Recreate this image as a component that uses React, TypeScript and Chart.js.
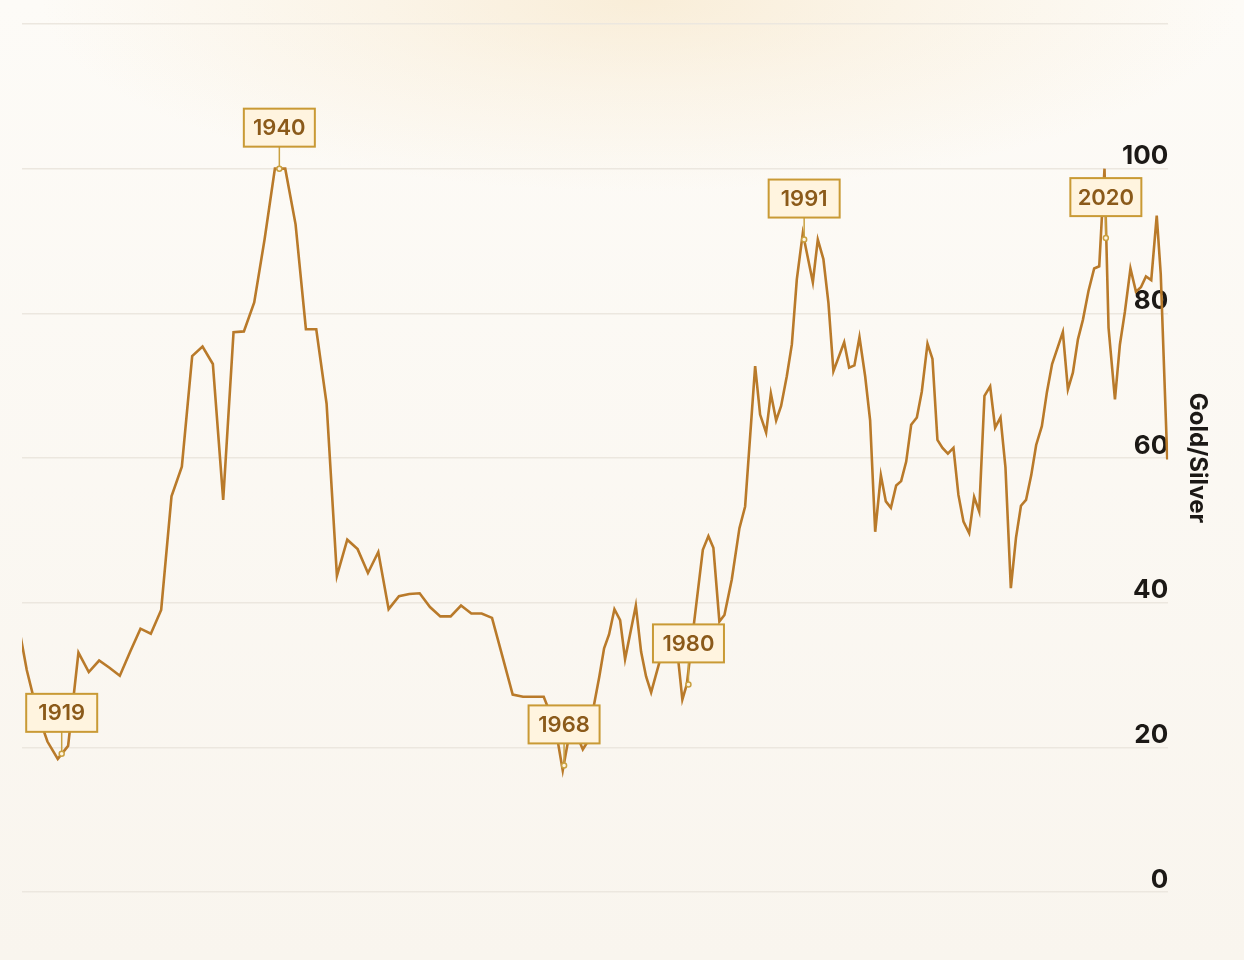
import { useEffect, useRef } from "react";
import { Chart, registerables } from "chart.js";

Chart.register(...registerables);

// annual points first, then roughly half-yearly readings
const years = [
  1915, 1916, 1917, 1918, 1919, 1920, 1921, 1922, 1923, 1924,
  1925, 1926, 1927, 1928, 1929, 1930, 1931, 1932, 1933, 1934,
  1935, 1936, 1937, 1938, 1939, 1940, 1941, 1942, 1943, 1944,
  1945, 1946, 1947, 1948, 1949, 1950, 1951, 1952, 1953, 1954,
  1955, 1956, 1957, 1958, 1959, 1960, 1961, 1962, 1963, 1964,
  1965, 1966,
  1967.1, 1967.84, 1968.69, 1969.78, 1970.17, 1971.38, 1971.84, 1972.32, 1972.84, 1973.39,
  1973.87, 1974.91, 1975.42, 1975.9, 1976.39, 1977.16, 1978.22, 1979.03, 1979.41, 1979.84,
  1980.54, 1981.39, 1981.93, 1982.41, 1982.99, 1983.48, 1984.19, 1984.93, 1985.48, 1986.45,
  1986.93, 1987.51, 1987.97, 1988.48, 1988.96, 1989.51, 1990.0, 1990.48, 1991.06, 1992.03,
  1992.51, 1993.05, 1993.54, 1994.02, 1995.06, 1995.54, 1996.05, 1996.54, 1997.09, 1997.57,
  1998.06, 1998.61, 1999.09, 1999.58, 2000.09, 2000.57, 2001.06, 2001.54, 2002.09, 2002.57,
  2003.12, 2003.6, 2004.08, 2004.57, 2005.09, 2005.63, 2006.11, 2006.6, 2007.15, 2007.63,
  2008.12, 2008.63, 2009.18, 2009.66, 2010.18, 2010.66, 2011.18, 2011.68, 2012.16, 2012.65,
  2013.15, 2013.63, 2014.18, 2014.67, 2015.17, 2015.69, 2016.21, 2016.7, 2017.18, 2017.67,
  2018.15, 2018.69, 2019.24, 2019.73, 2020.24, 2020.63, 2021.25, 2021.73, 2022.21, 2022.75,
  2023.28, 2023.76, 2024.25, 2024.76, 2025.29, 2025.68, 2026.31,
];

const ratios = [
  38.5, 30.7, 24.9, 20.8, 18.4, 20.2, 33.1, 30.4, 32.0, 31.0,
  29.9, 33.2, 36.4, 35.7, 39.0, 54.7, 58.8, 74.1, 75.4, 73.0,
  54.2, 77.4, 77.5, 81.5, 90.2, 100.0, 100.0, 92.3, 77.8, 77.8,
  67.5, 43.7, 48.7, 47.4, 44.1, 47.0, 39.1, 40.9, 41.2, 41.3,
  39.4, 38.1, 38.1, 39.6, 38.5, 38.5, 37.9, 32.6, 27.3, 27.0,
  27.0, 27.0,
  23.0, 16.8, 23.5, 19.7, 20.6, 29.8, 33.7, 35.6, 39.1, 37.6,
  32.2, 39.6, 33.2, 29.8, 27.6, 31.6, 36.0, 31.8, 26.6, 28.7,
  37.2, 47.3, 49.2, 47.6, 37.4, 38.3, 43.2, 50.3, 53.3, 72.7,
  66.0, 63.5, 68.9, 65.2, 67.2, 71.3, 75.7, 84.7, 91.1, 84.3,
  90.2, 87.5, 81.4, 72.0, 76.0, 72.5, 72.8, 76.7, 71.3, 65.2,
  49.8, 57.6, 54.0, 53.1, 56.2, 56.8, 59.5, 64.6, 65.6, 69.2,
  75.8, 73.7, 62.5, 61.4, 60.6, 61.4, 54.9, 51.2, 49.6, 54.6,
  52.6, 68.6, 69.9, 64.2, 65.6, 58.7, 42.0, 49.0, 53.4, 54.2,
  57.6, 61.8, 64.4, 69.1, 73.0, 75.2, 77.4, 69.5, 71.8, 76.4,
  79.1, 83.1, 86.2, 86.5, 100.0, 78.0, 68.1, 75.7, 80.2, 86.2,
  83.0, 83.6, 85.1, 84.6, 93.5, 85.4, 59.8,
];

const yTicks = [0, 20, 40, 60, 80, 100, 120];

const calloutLabels = ["1919", "1940", "1968", "1980", "1991", "2020"];
const calloutYears = [1919.38, 1940.43, 1967.97, 1980.0, 1991.19, 2020.37];
const calloutRatios = [19.1, 100.0, 17.5, 28.7, 90.2, 90.4];

const backdrop = {
  id: "backdrop",
  beforeDraw(chart: Chart) {
    const { ctx, width, height } = chart;
    ctx.save();
    const base = ctx.createLinearGradient(0, 0, 0, height);
    base.addColorStop(0, "#FDFBF7");
    base.addColorStop(1, "#F9F5EE");
    ctx.fillStyle = base;
    ctx.fillRect(0, 0, width, height);
    // soft warm glow along the top edge
    ctx.translate(640, 0);
    ctx.scale(1, 0.32);
    const glow = ctx.createRadialGradient(0, 0, 0, 0, 0, 600);
    glow.addColorStop(0, "rgba(245, 224, 186, 0.5)");
    glow.addColorStop(0.45, "rgba(245, 224, 186, 0.25)");
    glow.addColorStop(1, "rgba(245, 224, 186, 0)");
    ctx.fillStyle = glow;
    ctx.fillRect(-640, 0, width, height / 0.32);
    ctx.restore();
  },
};

const callouts = {
  id: "callouts",
  afterDatasetsDraw(chart: Chart) {
    const { ctx, scales } = chart;
    const w = 71;
    const h = 38;
    const gap = 22;
    ctx.save();
    ctx.font = "600 22px Inter";
    ctx.textAlign = "center";
    ctx.textBaseline = "middle";
    calloutLabels.forEach((label, i) => {
      const px = scales.x.getPixelForValue(calloutYears[i]);
      const py = scales.y.getPixelForValue(calloutRatios[i]);
      const bottom = py - gap;

      ctx.strokeStyle = "#C9A040";
      ctx.lineWidth = 1.5;
      ctx.beginPath();
      ctx.moveTo(px, bottom);
      ctx.lineTo(px, py);
      ctx.stroke();
      ctx.beginPath();
      ctx.arc(px, py, 2.5, 0, Math.PI * 2);
      ctx.fillStyle = "#FFF4DF";
      ctx.fill();
      ctx.stroke();

      ctx.fillStyle = "#FFF4DF";
      ctx.fillRect(px - w / 2, bottom - h, w, h);
      ctx.strokeStyle = "#C99A35";
      ctx.lineWidth = 2;
      ctx.strokeRect(px - w / 2, bottom - h, w, h);

      ctx.fillStyle = "#8B5A1A";
      ctx.fillText(label, px, bottom - h / 2 + 1);
    });
    ctx.restore();
  },
};

const RatioChart = () => {
  const chartRef = useRef<HTMLCanvasElement | null>(null);
  const chartInstanceRef = useRef<Chart | null>(null);

  useEffect(() => {
    document.body.style.margin = "0";
    if (!chartRef.current) return;
    const ctx = chartRef.current.getContext("2d");
    if (!ctx) return;

    if (chartInstanceRef.current) {
      chartInstanceRef.current.destroy();
    }

    chartInstanceRef.current = new Chart(ctx, {
      type: "line",
      data: {
        datasets: [
          {
            label: "Gold/Silver",
            data: years.map((year, i) => ({ x: year, y: ratios[i] })),
            borderColor: "#B97A2A",
            borderWidth: 2.6,
            pointRadius: 0,
            tension: 0,
            fill: false,
          },
        ],
      },
      options: {
        animation: false,
        responsive: false,
        layout: {
          padding: { left: 22, top: 24, bottom: 68, right: 32 },
        },
        plugins: {
          legend: { display: false },
          tooltip: { enabled: false },
        },
        scales: {
          x: {
            type: "linear",
            display: false,
            min: 1915.54,
            max: 2026.4,
          },
          y: {
            position: "right",
            min: yTicks[0],
            max: yTicks[yTicks.length - 1],
            afterBuildTicks: (axis) => {
              axis.ticks = yTicks.map((v) => ({ value: v }));
            },
            border: { display: false },
            grid: {
              color: "#ECE7DF",
              lineWidth: 1.5,
              drawTicks: false,
            },
            ticks: {
              mirror: true,
              padding: 0,
              labelOffset: -12,
              color: "#1C1916",
              font: { family: "Inter", size: 26, weight: "bold" as const },
              callback: (value) => (value === 120 ? "" : String(value)),
            },
            title: {
              display: true,
              text: "Gold/Silver",
              color: "#1C1916",
              font: { family: "Inter", size: 24, weight: "bold" as const },
              padding: { top: 0, bottom: 15 },
            },
          },
        },
      },
      plugins: [backdrop, callouts],
    });

    return () => {
      if (chartInstanceRef.current) {
        chartInstanceRef.current.destroy();
        chartInstanceRef.current = null;
      }
    };
  }, []);

  return (
    <div style={{ width: 1244, height: 960 }}>
      <canvas ref={chartRef} width={1244} height={960} style={{ display: "block" }} />
    </div>
  );
};

export default function App() {
  return <RatioChart />;
}
